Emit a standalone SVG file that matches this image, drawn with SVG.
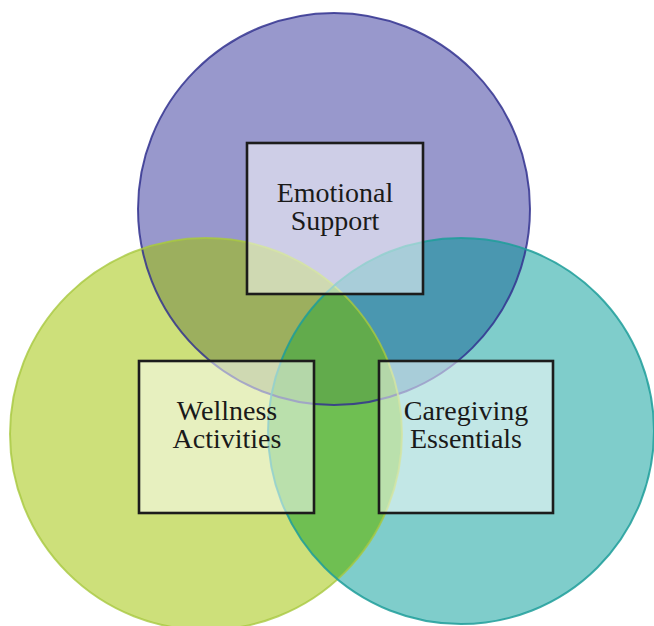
<svg xmlns="http://www.w3.org/2000/svg" width="654" height="626" viewBox="0 0 654 626">
<style>
.box{fill:#ffffff;fill-opacity:0.52;stroke:#1c1c1c;stroke-width:2.6}
.lbl{font-family:"Liberation Serif","Times New Roman",serif;font-size:28px;fill:#1a1a1a;text-anchor:middle}
</style>
<defs>
<clipPath id="cA"><circle cx="334" cy="209" r="196"/></clipPath>
<clipPath id="cB"><circle cx="206" cy="434" r="196"/></clipPath>
</defs>
<rect width="654" height="626" fill="#ffffff"/>
<g id="circles">
<circle cx="334" cy="209" r="196" fill="#9898cc"/>
<circle cx="206" cy="434" r="196" fill="#cde07a"/>
<circle cx="461" cy="431" r="193" fill="#7fcdcb"/>
<circle cx="206" cy="434" r="196" fill="#9caf5e" clip-path="url(#cA)"/>
<circle cx="461" cy="431" r="193" fill="#4a97b0" clip-path="url(#cA)"/>
<circle cx="461" cy="431" r="193" fill="#6fbf52" clip-path="url(#cB)"/>
<g clip-path="url(#cA)"><circle cx="461" cy="431" r="193" fill="#62ab4c" clip-path="url(#cB)"/></g>
<circle cx="334" cy="209" r="196" fill="none" stroke="#33338f" stroke-width="2" stroke-opacity="0.85"/>
<circle cx="206" cy="434" r="196" fill="none" stroke="#a8c840" stroke-width="2" stroke-opacity="0.8"/>
<circle cx="461" cy="431" r="193" fill="none" stroke="#1f9d9a" stroke-width="2" stroke-opacity="0.85"/>
</g>
<g id="emotional">
<rect class="box" x="247" y="143" width="176" height="151"/>
<text class="lbl" x="335" y="202">Emotional</text>
<text class="lbl" x="335" y="230">Support</text>
</g>
<g id="wellness">
<rect class="box" x="139" y="361" width="175" height="152"/>
<text class="lbl" x="227" y="420">Wellness</text>
<text class="lbl" x="227" y="448">Activities</text>
</g>
<g id="caregiving">
<rect class="box" x="379" y="361" width="174" height="152"/>
<text class="lbl" x="466" y="420">Caregiving</text>
<text class="lbl" x="466" y="448">Essentials</text>
</g>
<g id="connectors"></g>
</svg>
